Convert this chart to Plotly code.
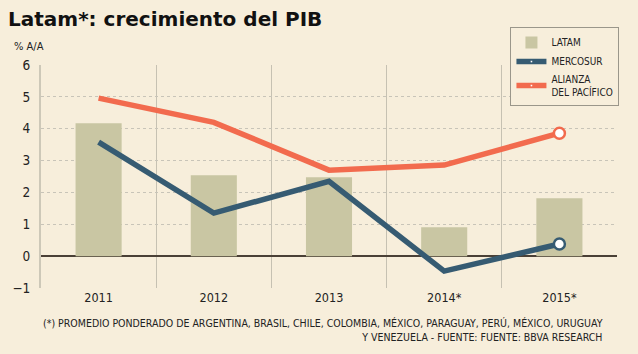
import plotly.graph_objects as go

years = ["2011", "2012", "2013", "2014*", "2015*"]
latam = [4.17, 2.54, 2.48, 0.91, 1.82]
mercosur = [3.58, 1.35, 2.35, -0.47, 0.38]
alianza = [4.96, 4.2, 2.7, 2.86, 3.86]
yticks = [-1, 0, 1, 2, 3, 4, 5, 6]

BG = "#f7eedb"
xs = list(range(len(years)))
COND = "DejaVu Sans Condensed, Liberation Sans Narrow, sans-serif"

fig = go.Figure()
fig.add_trace(go.Bar(x=xs, y=latam, name="LATAM", marker=dict(color="#c9c6a3", line=dict(width=0)), width=0.4))
fig.add_trace(go.Scatter(x=xs, y=mercosur, name="MERCOSUR", mode="lines+markers",
                         line=dict(color="#365b72", width=5.5),
                         marker=dict(size=[0, 0, 0, 0, 11], color="white", opacity=1,
                                     line=dict(color="#365b72", width=[0, 0, 0, 0, 2.5]))))
fig.add_trace(go.Scatter(x=xs, y=alianza, name="ALIANZA<br>DEL PACÍFICO", mode="lines+markers",
                         line=dict(color="#f26b4e", width=5.5),
                         marker=dict(size=[0, 0, 0, 0, 11], color="white", opacity=1,
                                     line=dict(color="#f26b4e", width=[0, 0, 0, 0, 2.5]))))

fig.update_layout(
    width=638, height=354,
    paper_bgcolor=BG, plot_bgcolor=BG,
    margin=dict(l=33, r=21, t=65, b=66),
    font=dict(family=COND, color="#222", size=12),
    showlegend=True,
    legend=dict(x=0.815, y=1.17, xanchor="left", yanchor="top", bgcolor=BG,
                bordercolor="#9a968a", borderwidth=1, font=dict(size=10, family=COND),
                tracegroupgap=0, itemwidth=30),
    xaxis=dict(range=[-0.5, 4.5], tickvals=xs, ticktext=years, showgrid=False,
               zeroline=False, showline=False, ticks="",
               tickfont=dict(size=12.5),
               minor=dict(tick0=0.5, dtick=1, showgrid=True, gridcolor="#c6c1b2", gridwidth=1)),
    yaxis=dict(range=[-1, 6], tickvals=yticks, showgrid=True, gridcolor="#c8c4b8",
               griddash="dot", zeroline=True, zerolinecolor="#4a4036", zerolinewidth=2,
               showline=True, linecolor="#cdc8b8", linewidth=2, ticks="",
               tickfont=dict(size=13.5), ticklabelstandoff=6),
    annotations=[
        dict(text="<b>Latam*: crecimiento del PIB</b>", x=0, y=1, xref="paper", yref="paper",
             xanchor="left", yanchor="top", showarrow=False,
             font=dict(size=20, color="#111", family="DejaVu Sans, sans-serif"),
             xshift=-35, yshift=60),
        dict(text="% A/A", x=0, y=1, xref="paper", yref="paper", xanchor="left", yanchor="top",
             showarrow=False, font=dict(size=11), xshift=-29, yshift=27),
        dict(text="(*) PROMEDIO PONDERADO DE ARGENTINA, BRASIL, CHILE, COLOMBIA, MÉXICO, PARAGUAY, PERÚ, MÉXICO, URUGUAY<br>Y VENEZUELA - FUENTE: FUENTE: BBVA RESEARCH",
             x=1, y=0, xref="paper", yref="paper", xanchor="right", yanchor="top", align="right",
             showarrow=False, font=dict(size=10.5), xshift=-12, yshift=-27),
    ],
)

fig.write_html("out.html")
